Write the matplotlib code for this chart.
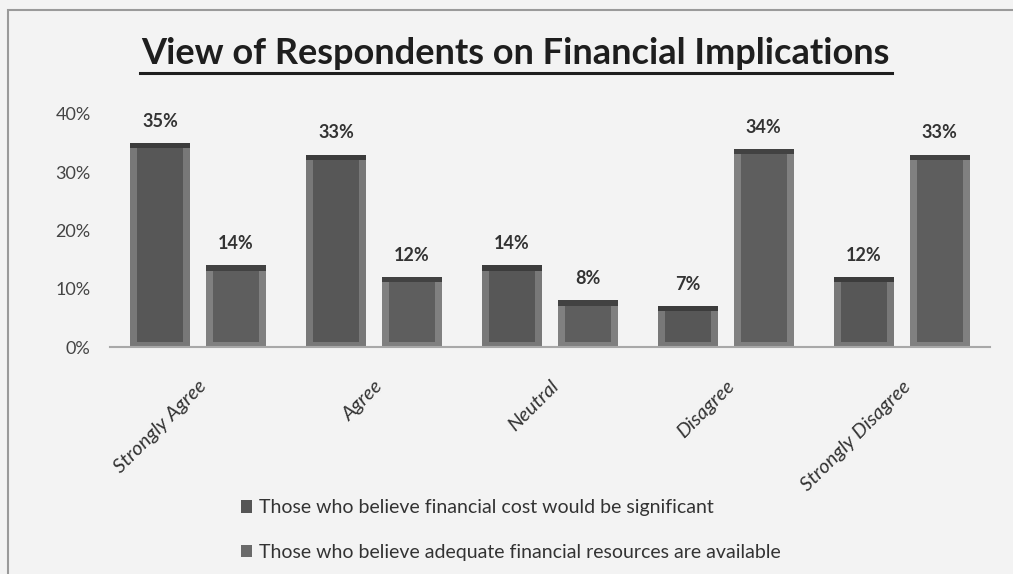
import matplotlib.pyplot as plt
import numpy as np
from matplotlib.patches import Patch, Rectangle
from matplotlib.lines import Line2D

plt.rcParams['font.family'] = ['Lato', 'DejaVu Sans']

categories = ["Strongly Agree", "Agree", "Neutral", "Disagree", "Strongly Disagree"]
cost_significant = [35, 33, 14, 7, 12]
resources_available = [14, 12, 8, 34, 33]
series_names = ["Those who believe financial cost would be significant",
                "Those who believe adequate financial resources are available"]
yticks = [0, 10, 20, 30, 40]

fig = plt.figure(figsize=(10.13, 5.74), dpi=100)
fig.patch.set_facecolor("#f3f3f3")

# scanned page frame
fig.patches.append(Rectangle((8 / 1013, -0.05), 1.2, 1 - 10 / 574 + 0.05,
                             transform=fig.transFigure, fill=False,
                             edgecolor="#9a9a9a", linewidth=1.5))

ax = fig.add_axes([110 / 1013, 1 - 347 / 574, 880 / 1013, 233 / 574])
ax.set_facecolor("none")

x = np.arange(len(categories))
width = 0.34
offset = 0.215
mx = 0.04    # bevel thickness, horizontal
my = 0.9     # bevel thickness, vertical


def bevel_bars(xpos, values, outer, inner, top):
    values = np.asarray(values, dtype=float)
    ax.bar(xpos, values, width, color=outer, zorder=2)
    ax.bar(xpos, values - 2 * my, width - 2 * mx, bottom=my, color=inner, zorder=3)
    ax.bar(xpos, np.full_like(values, my), width, bottom=values - my, color=top, zorder=3)


bevel_bars(x - offset, cost_significant, "#787878", "#575757", "#3c3c3c")
bevel_bars(x + offset, resources_available, "#808080", "#5e5e5e", "#424242")

for xs, vals in ((x - offset, cost_significant), (x + offset, resources_available)):
    for xi, v in zip(xs, vals):
        ax.text(xi, v + 2.3, f"{v}%", ha="center", va="bottom",
                fontsize=13, fontweight="bold", color="#333333")

ax.set_xlim(-0.5, len(categories) - 0.5)
ax.set_ylim(0, 40)
ax.set_yticks(yticks)
ax.set_yticklabels([f"{t}%" for t in yticks], fontsize=13, color="#444444")
ax.tick_params(axis="y", length=0, pad=14)
ax.set_xticks(x)
ax.set_xticklabels(categories, rotation=45, ha="right", va="top",
                   rotation_mode="anchor", fontsize=14.5, style="italic",
                   color="#333333")
ax.tick_params(axis="x", length=0, pad=22)
for side in ("top", "right", "left"):
    ax.spines[side].set_visible(False)
ax.spines["bottom"].set_color("#a8a8a8")
ax.spines["bottom"].set_linewidth(1.5)

# title with underline
fig.text(515 / 1013, 1 - 54 / 574, "View of Respondents on Financial Implications",
         ha="center", va="center", fontsize=26, fontweight="bold", color="#1e1e1e")
fig.add_artist(Line2D([140 / 1013, 892 / 1013], [1 - 73 / 574, 1 - 73 / 574],
                      transform=fig.transFigure, color="#1e1e1e", linewidth=2.2))

handles = [Patch(facecolor="#555555"), Patch(facecolor="#6a6a6a")]
fig.legend(handles, series_names, loc="upper left",
           bbox_to_anchor=(223 / 1013, 1 - 482 / 574), frameon=False,
           fontsize=14, handlelength=0.6, handleheight=0.6,
           handletextpad=0.35, labelspacing=1.4, labelcolor="#333333")

fig.savefig("out.png", dpi=100, facecolor=fig.get_facecolor())
